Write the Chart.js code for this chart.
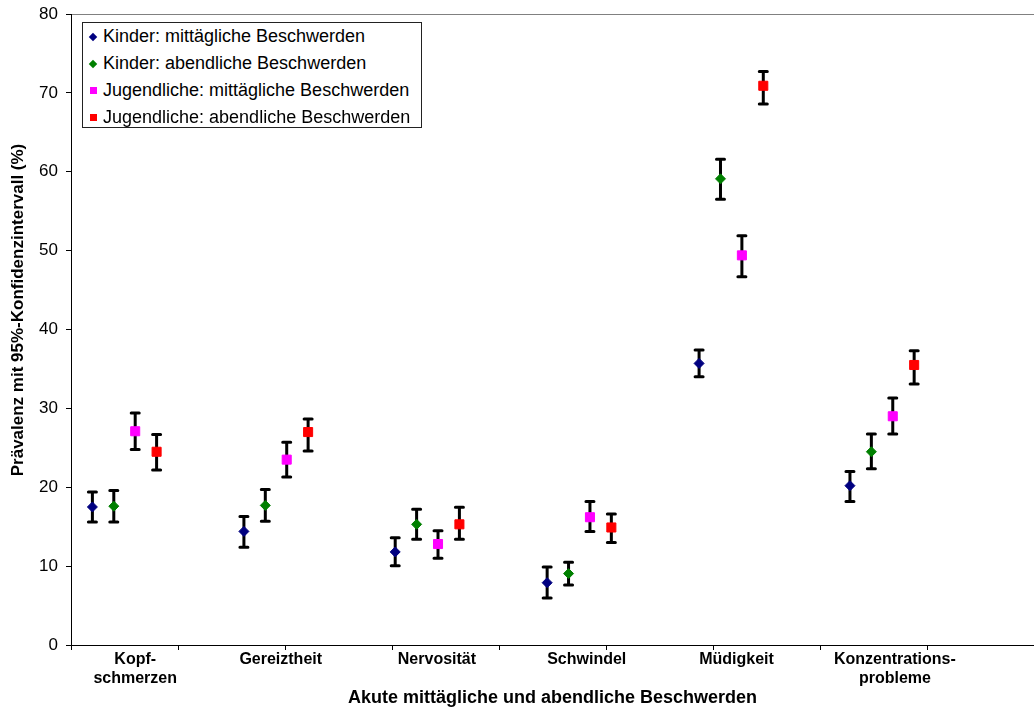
<!DOCTYPE html>
<html lang="de">
<head>
<meta charset="utf-8">
<title>Akute mittägliche und abendliche Beschwerden</title>
<script src="https://cdn.jsdelivr.net/npm/chart.js@4/dist/chart.umd.min.js"></script>
<style>
  html, body { margin: 0; padding: 0; background: #fff; }
  #wrap { position: relative; width: 1034px; height: 709px; overflow: hidden; }
  #legend {
    position: absolute; left: 82px; top: 22px; width: 338px; height: 104px;
    border: 1px solid #222; background: #fff;
    font: 18px "Liberation Sans", Arial, sans-serif; color: #000;
  }
  #legend div { height: 27px; line-height: 27px; white-space: nowrap; position: relative; padding-left: 20px; }
  #legend span.mark { position: absolute; left: 7px; top: 10px; width: 7px; height: 7px; }
  #legend span.mark.diamond { width: 6px; height: 6px; left: 7px; top: 11px; transform: rotate(45deg); }
</style>
</head>
<body>
<div id="wrap">
  <canvas id="beschwerden" width="1034" height="709"></canvas>
  <div id="legend"></div>
</div>
<script>
// Kategorien und Lage der Beschriftung auf der x-Achse
const categories = [['Kopf-', 'schmerzen'], 'Gereiztheit', 'Nervosität', 'Schwindel', 'Müdigkeit', ['Konzentrations-', 'probleme']];
const categoryPos = [3, 9.8, 17.1, 24.1, 31.1, 38.5];
const groupPos = [1, 8.08, 15.15, 22.25, 29.35, 36.4];

const seriesNames = [
  'Kinder: mittägliche Beschwerden',
  'Kinder: abendliche Beschwerden',
  'Jugendliche: mittägliche Beschwerden',
  'Jugendliche: abendliche Beschwerden'
];

// Prävalenz (%) mit unterer/oberer Grenze des 95%-Konfidenzintervalls
const kinderMittag   = [17.5, 14.4, 11.8, 7.9, 35.7, 20.2];
const kinderMittagLo = [15.6, 12.4, 10.05, 5.95, 34.0, 18.2];
const kinderMittagHi = [19.4, 16.3, 13.6, 9.9, 37.4, 22.0];

const kinderAbend   = [17.6, 17.7, 15.3, 9.05, 59.1, 24.5];
const kinderAbendLo = [15.6, 15.7, 13.4, 7.6, 56.5, 22.35];
const kinderAbendHi = [19.6, 19.7, 17.2, 10.5, 61.6, 26.75];

const jugendMittag   = [27.1, 23.5, 12.8, 16.2, 49.4, 29.0];
const jugendMittagLo = [24.8, 21.3, 11.0, 14.4, 46.7, 26.75];
const jugendMittagHi = [29.4, 25.7, 14.5, 18.2, 51.9, 31.3];

const jugendAbend   = [24.5, 27.0, 15.3, 14.9, 70.9, 35.5];
const jugendAbendLo = [22.2, 24.6, 13.4, 13.0, 68.6, 33.1];
const jugendAbendHi = [26.7, 28.65, 17.45, 16.6, 72.7, 37.3];

const yAxisTitle = 'Prävalenz mit 95%-Konfidenzintervall (%)';
const xAxisTitle = 'Akute mittägliche und abendliche Beschwerden';

Chart.defaults.font.family = '"Liberation Sans", Arial, sans-serif';
Chart.defaults.color = '#000';

function makeSet(label, values, lo, hi, offset, color, style, radius) {
  return {
    label: label,
    data: values.map((v, i) => ({ x: groupPos[i] + offset, y: v })),
    ciLow: lo,
    ciHigh: hi,
    pointStyle: style,
    pointRadius: radius,
    pointHoverRadius: radius,
    backgroundColor: color,
    borderColor: color,
    borderWidth: 1,
    showLine: false
  };
}

// Fehlerbalken (Konfidenzintervalle) unter den Markern
const errorBars = {
  id: 'errorBars',
  beforeDatasetsDraw(chart) {
    const ctx = chart.ctx;
    const y = chart.scales.y;
    ctx.save();
    ctx.strokeStyle = '#000';
    ctx.lineWidth = 3;
    ctx.lineCap = 'round';
    chart.data.datasets.forEach((ds, di) => {
      chart.getDatasetMeta(di).data.forEach((pt, i) => {
        const top = y.getPixelForValue(ds.ciHigh[i]);
        const bot = y.getPixelForValue(ds.ciLow[i]);
        ctx.beginPath();
        ctx.moveTo(pt.x, top); ctx.lineTo(pt.x, bot);
        ctx.moveTo(pt.x - 4, top); ctx.lineTo(pt.x + 4, top);
        ctx.moveTo(pt.x - 4, bot); ctx.lineTo(pt.x + 4, bot);
        ctx.stroke();
      });
    });
    ctx.restore();
  }
};

// y-Achsentitel etwas oberhalb der Mitte
const yTitle = {
  id: 'yTitle',
  afterDraw(chart) {
    const ctx = chart.ctx;
    ctx.save();
    ctx.translate(18, 310);
    ctx.rotate(-Math.PI / 2);
    ctx.font = 'bold 17px "Liberation Sans", Arial, sans-serif';
    ctx.fillStyle = '#000';
    ctx.textAlign = 'center';
    ctx.textBaseline = 'middle';
    ctx.fillText(yAxisTitle, 0, 0);
    ctx.restore();
  }
};

const chart = new Chart(document.getElementById('beschwerden'), {
  type: 'scatter',
  data: {
    datasets: [
      makeSet(seriesNames[0], kinderMittag, kinderMittagLo, kinderMittagHi, 0, '#000080', 'rectRot', 5),
      makeSet(seriesNames[1], kinderAbend, kinderAbendLo, kinderAbendHi, 1, '#008000', 'rectRot', 5),
      makeSet(seriesNames[2], jugendMittag, jugendMittagLo, jugendMittagHi, 2, '#FF00FF', 'rect', 6.4),
      makeSet(seriesNames[3], jugendAbend, jugendAbendLo, jugendAbendHi, 3, '#FF0000', 'rect', 6.4)
    ]
  },
  options: {
    responsive: false,
    animation: false,
    layout: { autoPadding: false, padding: { top: 14, left: 0, right: 0, bottom: 0 } },
    plugins: {
      legend: { display: false },
      tooltip: { enabled: false }
    },
    scales: {
      x: {
        type: 'linear',
        position: 'bottom',
        weight: 0,
        min: 0,
        max: 45,
        ticks: { stepSize: 5, display: false },
        grid: { drawOnChartArea: false, drawTicks: true, tickLength: 5, color: '#000', tickColor: '#000' },
        border: { color: '#000', width: 1 },
        afterFit(s) { s.height = 5; s.paddingLeft = 0; s.paddingRight = 0; }
      },
      xl: {
        type: 'linear',
        position: 'bottom',
        weight: 1,
        min: 0,
        max: 45,
        grid: { display: false, drawTicks: false },
        border: { display: false },
        afterBuildTicks(s) { s.ticks = categoryPos.map(v => ({ value: v })); },
        ticks: {
          autoSkip: false,
          maxRotation: 0,
          padding: 0,
          font: { size: 16, weight: 'bold' },
          callback: (v, i) => categories[i]
        },
        title: {
          display: true,
          text: xAxisTitle,
          font: { size: 18, weight: 'bold' },
          padding: { top: 0, bottom: 0 }
        },
        afterFit(s) { s.height = 59; s.paddingLeft = 0; s.paddingRight = 0; }
      },
      y: {
        min: 0,
        max: 80,
        ticks: { stepSize: 10, padding: 8, font: { size: 17 } },
        grid: {
          color: c => (c.tick && c.tick.value === 80 ? '#808080' : 'rgba(0,0,0,0)'),
          tickColor: '#000',
          tickLength: 5,
          drawTicks: true
        },
        border: { color: '#000', width: 1 },
        afterFit(s) { s.width = 71; s.paddingTop = 0; s.paddingBottom = 0; }
      }
    }
  },
  plugins: [errorBars, yTitle]
});

// Legende aus den Datensätzen
const legend = document.getElementById('legend');
chart.data.datasets.forEach(ds => {
  const row = document.createElement('div');
  const mark = document.createElement('span');
  mark.className = 'mark' + (ds.pointStyle === 'rectRot' ? ' diamond' : '');
  mark.style.background = ds.backgroundColor;
  row.appendChild(mark);
  row.appendChild(document.createTextNode(ds.label));
  legend.appendChild(row);
});
</script>
</body>
</html>
